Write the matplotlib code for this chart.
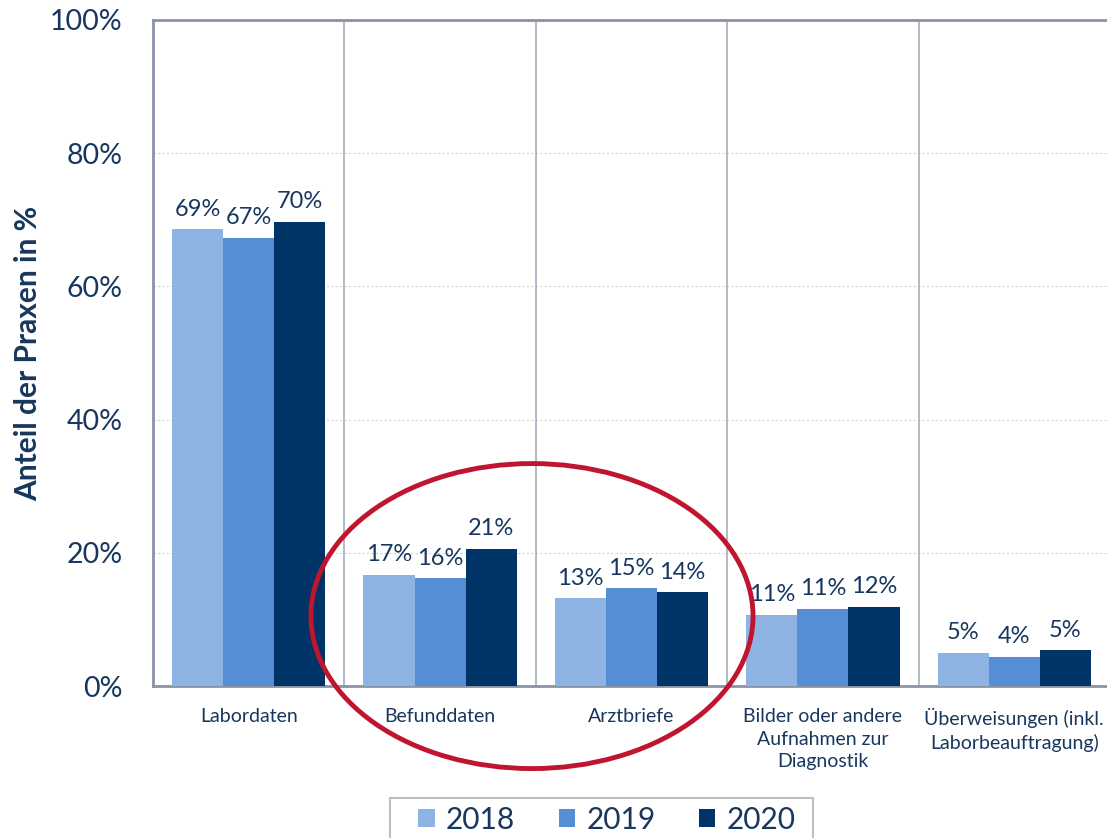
import numpy as np
import matplotlib.pyplot as plt
from matplotlib.patches import Ellipse, Rectangle

plt.rcParams['font.family'] = ['Lato', 'DejaVu Sans']

categories = ["Labordaten", "Befunddaten", "Arztbriefe",
              "Bilder oder andere\nAufnahmen zur\nDiagnostik",
              "Überweisungen (inkl.\nLaborbeauftragung)"]
years = ["2018", "2019", "2020"]
v2018 = [68.6, 16.7, 13.2, 10.7, 5.0]
v2019 = [67.3, 16.2, 14.7, 11.6, 4.4]
v2020 = [69.7, 20.6, 14.1, 11.9, 5.4]
labels2018 = ["69%", "17%", "13%", "11%", "5%"]
labels2019 = ["67%", "16%", "15%", "11%", "4%"]
labels2020 = ["70%", "21%", "14%", "12%", "5%"]

colors = ["#8EB4E3", "#558ED5", "#003366"]
text_col = "#17375E"
frame_col = "#8A93A8"

W, H = 1107, 838
fig = plt.figure(figsize=(W / 100, H / 100), dpi=100)
ax = fig.add_axes([153 / W, 1 - 686 / H, (1110 - 153) / W, (686 - 20) / H])

x = np.arange(len(categories))
bw = 0.267
series = [v2018, v2019, v2020]
lbls = [labels2018, labels2019, labels2020]
for i, (vals, lab) in enumerate(zip(series, lbls)):
    bars = ax.bar(x + (i - 1) * bw, vals, bw, color=colors[i], label=years[i], zorder=3)
    for b, t in zip(bars, lab):
        ax.text(b.get_x() + b.get_width() / 2, b.get_height() + 1.4, t,
                ha='center', va='bottom', fontsize=17, color=text_col)

ax.set_xlim(-0.5, 4.5)
ax.set_ylim(0, 100)
ax.set_yticks(range(0, 101, 20))
ax.set_yticklabels([f"{v}%" for v in range(0, 101, 20)], fontsize=20.5, color=text_col)
ax.set_xticks(x)
ax.set_xticklabels(categories, fontsize=14, color=text_col, linespacing=1.4, va='top')
ax.tick_params(axis='x', length=0, pad=16)
ax.tick_params(axis='y', length=0, pad=22)

for g in range(20, 100, 20):
    ax.axhline(g, color="#D9D3C3", lw=0.8, ls=(0, (2, 2)), zorder=1)
for s in x[:-1] + 0.5:
    ax.axvline(s, color="#A8ADBD", lw=1.2, zorder=1)

for side in ['left', 'top', 'bottom']:
    ax.spines[side].set_color(frame_col)
    ax.spines[side].set_linewidth(2)
ax.spines['right'].set_visible(False)

ax.set_ylabel("Anteil der Praxen in %", fontsize=21.5, fontweight='bold', color=text_col)
ax.yaxis.set_label_coords((42 - 153) / 957, 0.5)

ell = Ellipse((1.48, 10.5), 2.31, 45.8, fill=False, edgecolor="#C0152F", lw=3.5,
              clip_on=False, zorder=5)
ax.add_patch(ell)

# legend box, cut off at the bottom edge like in the original
fig.patches.append(Rectangle((390 / W, -10 / H), (813 - 390) / W, 50 / H,
                             transform=fig.transFigure, fill=False,
                             edgecolor="#BFBFBF", lw=1.5))
leg = fig.legend(loc='center', bbox_to_anchor=(607 / W, 1 - 820 / H),
                 ncol=3, fontsize=21.5, frameon=False,
                 handlelength=0.55, handleheight=0.55, handletextpad=0.38,
                 columnspacing=1.45, borderaxespad=0, borderpad=0)
for t in leg.get_texts():
    t.set_color(text_col)

fig.savefig("out.png", dpi=100)
